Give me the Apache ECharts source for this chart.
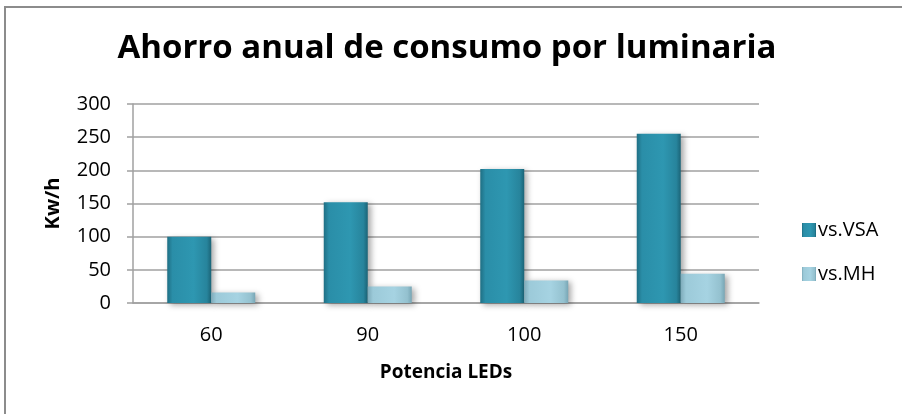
<!DOCTYPE html>
<html><head><meta charset="utf-8">
<script src="https://cdn.jsdelivr.net/npm/echarts@6/dist/echarts.min.js"></script>
<style>html,body{margin:0;padding:0;background:#fff}#c{width:902px;height:414px}</style>
</head><body><div id="c"></div>
<script>
const categories = ['60', '90', '100', '150'];
const vsVSA = [100, 152, 202, 255];
const vsMH = [16, 25, 34, 44];
const yTicks = [0, 50, 100, 150, 200, 250, 300];

const FONT = '"Open Sans", "Liberation Sans", sans-serif';
const chart = echarts.init(document.getElementById('c'));
const gradVSA = new echarts.graphic.LinearGradient(0, 0, 1, 0, [
  {offset: 0, color: '#1f6f84'}, {offset: 0.12, color: '#2a8ea8'},
  {offset: 0.6, color: '#2e97b1'}, {offset: 0.9, color: '#27849c'}, {offset: 1, color: '#1b6477'}]);
const gradMH = new echarts.graphic.LinearGradient(0, 0, 1, 0, [
  {offset: 0, color: '#7eabba'}, {offset: 0.12, color: '#9ccad9'},
  {offset: 0.6, color: '#a6d3e2'}, {offset: 0.9, color: '#94c1cf'}, {offset: 1, color: '#78a6b5'}]);
const shadow = {shadowColor: 'rgba(0,0,0,0.35)', shadowBlur: 6, shadowOffsetX: 3, shadowOffsetY: 2};
chart.setOption({
  animation: false,
  backgroundColor: '#fff',
  graphic: [{type: 'rect', shape: {x: 5, y: 7, width: 1200, height: 1200},
    style: {fill: 'none', stroke: '#8c8c8c', lineWidth: 2}, silent: true}],
  title: {text: 'Ahorro anual de consumo por luminaria', left: 442, top: 27, textAlign: 'center',
    textStyle: {fontFamily: FONT, fontWeight: 'bold', fontSize: 33, color: '#000', letterSpacing: -2}},
  legend: {orient: 'vertical', left: 797, top: 215, itemGap: 24, itemWidth: 14, itemHeight: 14,
    icon: 'rect', textStyle: {fontFamily: FONT, fontSize: 20, color: '#000', padding: [0, 0, 0, -3]},
    data: ['vs.VSA', 'vs.MH']},
  grid: {left: 133, right: 143, top: 104, bottom: 111, containLabel: false},
  xAxis: {type: 'category', data: categories,
    name: 'Potencia LEDs', nameLocation: 'middle', nameGap: 70,
    nameTextStyle: {fontFamily: FONT, fontWeight: 'bold', fontSize: 19, color: '#000', verticalAlign: 'middle'},
    axisLine: {lineStyle: {color: '#a0a0a0', width: 1.5}}, axisTick: {show: false},
    axisLabel: {fontFamily: FONT, fontSize: 20, color: '#000', margin: 22}},
  yAxis: {type: 'value', min: yTicks[0], max: yTicks[yTicks.length - 1], interval: 50,
    name: 'Kw/h', nameLocation: 'middle', nameGap: 80, nameRotate: 90,
    nameTextStyle: {fontFamily: FONT, fontWeight: 'bold', fontSize: 20, color: '#000', verticalAlign: 'middle'},
    axisLine: {show: true, lineStyle: {color: '#a0a0a0', width: 1.5}},
    axisTick: {show: true, length: 6, lineStyle: {color: '#a0a0a0', width: 1.5}},
    splitLine: {lineStyle: {color: '#a0a0a0', width: 1.5}},
    axisLabel: {fontFamily: FONT, fontSize: 20, color: '#000', margin: 22}},
  series: [
    {name: 'vs.VSA', type: 'bar', data: vsVSA, barWidth: 44, barGap: '0%',
      itemStyle: Object.assign({color: gradVSA}, shadow)},
    {name: 'vs.MH', type: 'bar', data: vsMH, barWidth: 44, barGap: '0%',
      itemStyle: Object.assign({color: gradMH}, shadow)}
  ]
});
</script></body></html>
